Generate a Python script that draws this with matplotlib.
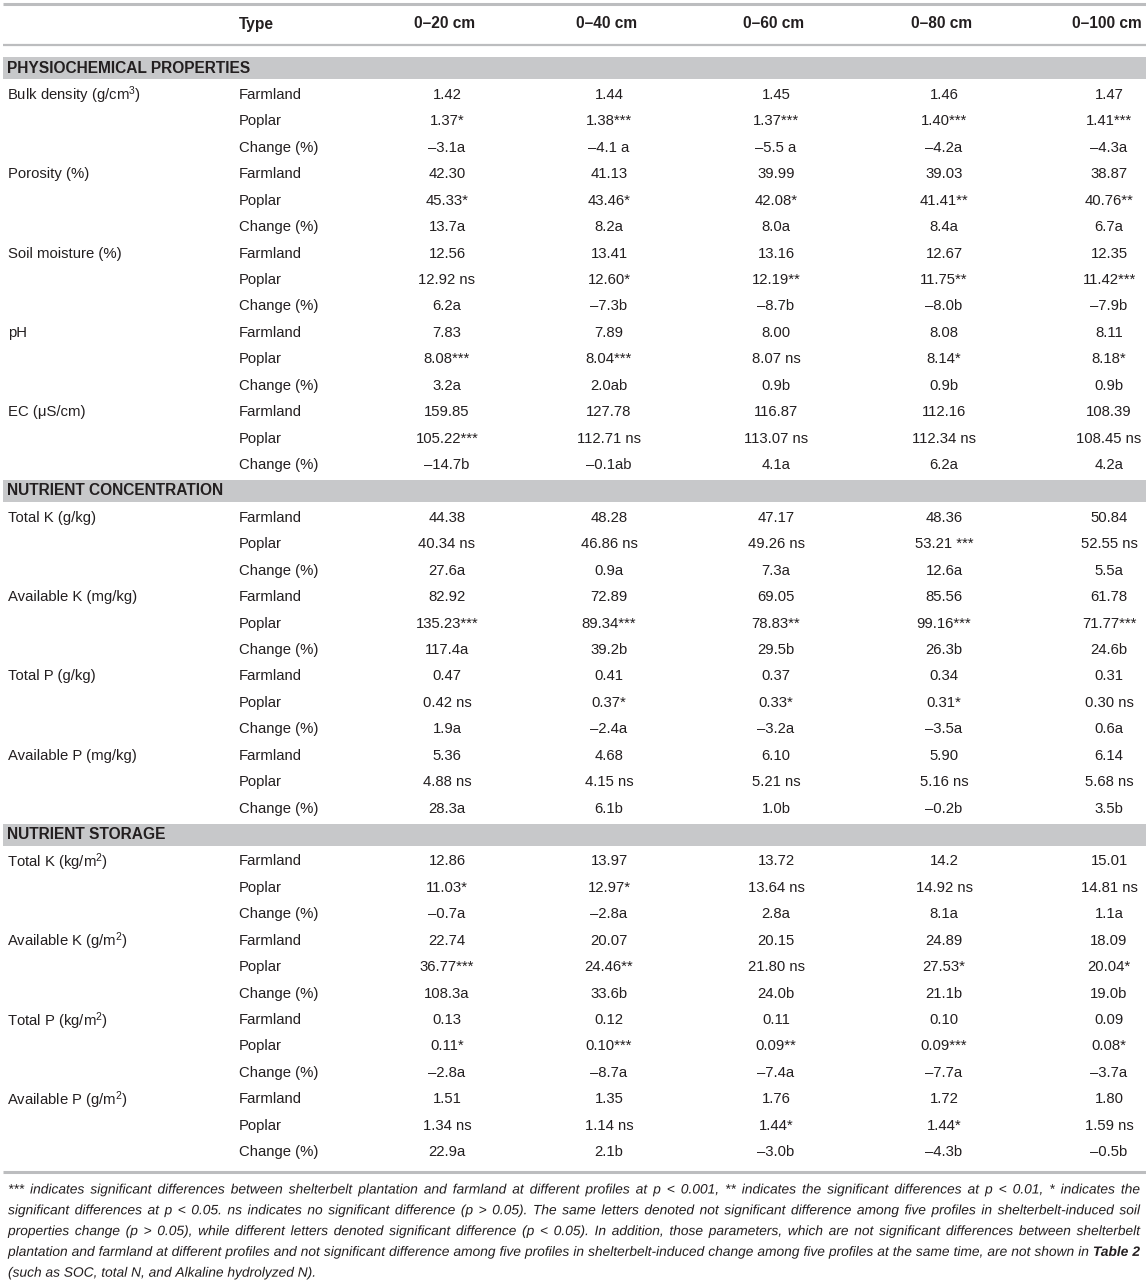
import matplotlib
matplotlib.use("Agg")
import matplotlib.pyplot as plt
from matplotlib.patches import Rectangle, PathPatch
from matplotlib.textpath import TextPath, text_to_path
from matplotlib.font_manager import FontProperties
from matplotlib.transforms import Affine2D

plt.rcParams['font.family'] = ['Liberation Sans', 'DejaVu Sans']
plt.rcParams['mathtext.fontset'] = 'custom'
plt.rcParams['mathtext.rm'] = 'Liberation Sans'
plt.rcParams['mathtext.it'] = 'Liberation Sans:italic'

# table content
depths = ["0–20 cm", "0–40 cm", "0–60 cm", "0–80 cm", "0–100 cm"]
types = ["Farmland", "Poplar", "Change (%)"]

bulk_density = [["1.42", "1.44", "1.45", "1.46", "1.47"],
                ["1.37*", "1.38***", "1.37***", "1.40***", "1.41***"],
                ["–3.1a", "–4.1 a", "–5.5 a", "–4.2a", "–4.3a"]]
porosity = [["42.30", "41.13", "39.99", "39.03", "38.87"],
            ["45.33*", "43.46*", "42.08*", "41.41**", "40.76**"],
            ["13.7a", "8.2a", "8.0a", "8.4a", "6.7a"]]
soil_moisture = [["12.56", "13.41", "13.16", "12.67", "12.35"],
                 ["12.92 ns", "12.60*", "12.19**", "11.75**", "11.42***"],
                 ["6.2a", "–7.3b", "–8.7b", "–8.0b", "–7.9b"]]
ph = [["7.83", "7.89", "8.00", "8.08", "8.11"],
      ["8.08***", "8.04***", "8.07 ns", "8.14*", "8.18*"],
      ["3.2a", "2.0ab", "0.9b", "0.9b", "0.9b"]]
ec = [["159.85", "127.78", "116.87", "112.16", "108.39"],
      ["105.22***", "112.71 ns", "113.07 ns", "112.34 ns", "108.45 ns"],
      ["–14.7b", "–0.1ab", "4.1a", "6.2a", "4.2a"]]

conc_total_k = [["44.38", "48.28", "47.17", "48.36", "50.84"],
                ["40.34 ns", "46.86 ns", "49.26 ns", "53.21 ***", "52.55 ns"],
                ["27.6a", "0.9a", "7.3a", "12.6a", "5.5a"]]
conc_avail_k = [["82.92", "72.89", "69.05", "85.56", "61.78"],
                ["135.23***", "89.34***", "78.83**", "99.16***", "71.77***"],
                ["117.4a", "39.2b", "29.5b", "26.3b", "24.6b"]]
conc_total_p = [["0.47", "0.41", "0.37", "0.34", "0.31"],
                ["0.42 ns", "0.37*", "0.33*", "0.31*", "0.30 ns"],
                ["1.9a", "–2.4a", "–3.2a", "–3.5a", "0.6a"]]
conc_avail_p = [["5.36", "4.68", "6.10", "5.90", "6.14"],
                ["4.88 ns", "4.15 ns", "5.21 ns", "5.16 ns", "5.68 ns"],
                ["28.3a", "6.1b", "1.0b", "–0.2b", "3.5b"]]

stor_total_k = [["12.86", "13.97", "13.72", "14.2", "15.01"],
                ["11.03*", "12.97*", "13.64 ns", "14.92 ns", "14.81 ns"],
                ["–0.7a", "–2.8a", "2.8a", "8.1a", "1.1a"]]
stor_avail_k = [["22.74", "20.07", "20.15", "24.89", "18.09"],
                ["36.77***", "24.46**", "21.80 ns", "27.53*", "20.04*"],
                ["108.3a", "33.6b", "24.0b", "21.1b", "19.0b"]]
stor_total_p = [["0.13", "0.12", "0.11", "0.10", "0.09"],
                ["0.11*", "0.10***", "0.09**", "0.09***", "0.08*"],
                ["–2.8a", "–8.7a", "–7.4a", "–7.7a", "–3.7a"]]
stor_avail_p = [["1.51", "1.35", "1.76", "1.72", "1.80"],
                ["1.34 ns", "1.14 ns", "1.44*", "1.44*", "1.59 ns"],
                ["22.9a", "2.1b", "–3.0b", "–4.3b", "–0.5b"]]

sections = [
    ("PHYSIOCHEMICAL PROPERTIES", [
        ("Bulk density (g/cm$^{3}$)", bulk_density),
        ("Porosity (%)", porosity),
        ("Soil moisture (%)", soil_moisture),
        ("pH", ph),
        ("EC (μS/cm)", ec)]),
    ("NUTRIENT CONCENTRATION", [
        ("Total K (g/kg)", conc_total_k),
        ("Available K (mg/kg)", conc_avail_k),
        ("Total P (g/kg)", conc_total_p),
        ("Available P (mg/kg)", conc_avail_p)]),
    ("NUTRIENT STORAGE", [
        ("Total K (kg/m$^{2}$)", stor_total_k),
        ("Available K (g/m$^{2}$)", stor_avail_k),
        ("Total P (kg/m$^{2}$)", stor_total_p),
        ("Available P (g/m$^{2}$)", stor_avail_p)]),
]

footnote = [
    "*** indicates significant differences between shelterbelt plantation and farmland at different profiles at p < 0.001, ** indicates the significant differences at p < 0.01, * indicates the",
    "significant differences at p < 0.05. ns indicates no significant difference (p > 0.05). The same letters denoted not significant difference among five profiles in shelterbelt-induced soil",
    "properties change (p > 0.05), while different letters denoted significant difference (p < 0.05). In addition, those parameters, which are not significant differences between shelterbelt",
    "plantation and farmland at different profiles and not significant difference among five profiles in shelterbelt-induced change among five profiles at the same time, are not shown in Table 2",
    "(such as SOC, total N, and Alkaline hydrolyzed N).",
]

W, H = 1146, 1280
fig = plt.figure(figsize=(W / 100, H / 100), dpi=100)
ax = fig.add_axes([0, 0, 1, 1])
ax.set_xlim(0, W)
ax.set_ylim(H, 0)
ax.axis('off')

txt = '#231f20'
rule = '#bcbdbf'
band = '#c7c8ca'
fs = 10.7
fsb = 11.2

col_x = [447, 609, 776, 944, 1109]
x_name, x_type = 8, 239
row0, dy = 94.5, 26.43
bl = 4.5  # baseline offset below the row centre

# header
ax.plot([3, W], [4, 4], color=rule, lw=2.2, solid_capstyle='butt')
ax.plot([3, W], [45, 45], color=rule, lw=1.6, solid_capstyle='butt')
ax.text(x_type, 24 + bl, "Type", fontsize=fsb, fontweight='bold', color=txt, va='baseline')
for x, d in zip(col_x, depths):
    ax.text(x - 2, 24 + bl, d, fontsize=fsb, fontweight='bold', color=txt,
            va='baseline', ha='center')

i = -1
for title, variables in sections:
    y = row0 + i * dy
    ax.add_patch(Rectangle((3, y - 11), W - 3, 22, color=band, lw=0))
    ax.text(7, y + bl, title, fontsize=fsb, fontweight='bold', color=txt, va='baseline')
    i += 1
    for name, rows in variables:
        y = row0 + i * dy
        if '$' in name:
            ax.text(x_name - 1, y + bl + 1.5, name, fontsize=fs, color=txt, va='baseline')
        else:
            ax.text(x_name, y + bl, name, fontsize=fs, color=txt, va='baseline')
        for t, vals in zip(types, rows):
            y = row0 + i * dy
            ax.text(x_type, y + bl, t, fontsize=fs, color=txt, va='baseline')
            for x, v in zip(col_x, vals):
                ax.text(x, y + bl, v, fontsize=fs, color=txt, va='baseline', ha='center')
            i += 1

ax.plot([3, W], [1172, 1172], color=rule, lw=2.2, solid_capstyle='butt')

# footnote: narrow italic, justified like the journal layout
em = 13.6
p_it = FontProperties(family='Liberation Sans', style='italic', size=em)
p_bi = FontProperties(family='Liberation Sans', style='italic', weight='bold', size=em)


def wwidth(s, prop):
    return text_to_path.get_text_width_height_descent(s, prop, ismath=False)[0]


space = wwidth('a a', p_it) - 2 * wwidth('a', p_it)
fx0, fx1 = 8, 1140

lines = []
for line in footnote:
    words = line.split(' ')
    props = [p_it] * len(words)
    if line.endswith("Table 2"):
        props[-2] = props[-1] = p_bi
    widths = [wwidth(w, p) for w, p in zip(words, props)]
    lines.append((words, props, widths))

sx = min((fx1 - fx0) * 0.995 / (sum(wd) + space * (len(wd) - 1))
         for _, _, wd in lines[:-1])

for k, (words, props, widths) in enumerate(lines):
    base = 1189 + k * 20.8 + 4.5
    if k == len(lines) - 1:
        gap = space * sx
    else:
        gap = (fx1 - fx0 - sx * sum(widths)) / (len(words) - 1)
    x = fx0
    for w, p, wd in zip(words, props, widths):
        tp = TextPath((0, 0), w, prop=p)
        path = Affine2D().scale(sx, -1).translate(x, base).transform_path(tp)
        ax.add_patch(PathPatch(path, fc=txt, lw=0))
        x += sx * wd + gap

fig.savefig("out.png", dpi=100)
